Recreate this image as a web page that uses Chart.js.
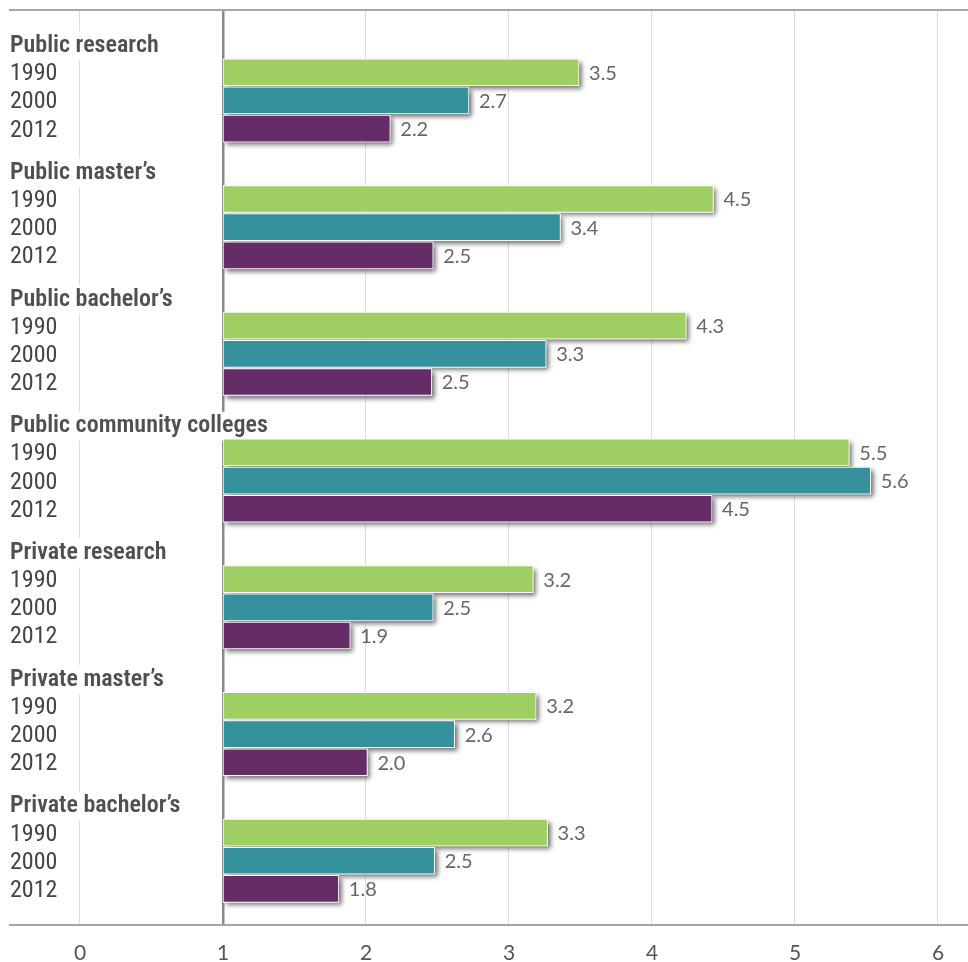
<!DOCTYPE html>
<html>
<head>
<meta charset="utf-8">
<script src="https://cdn.jsdelivr.net/npm/chart.js@4/dist/chart.umd.min.js"></script>
<style>
  html, body { margin: 0; padding: 0; background: #fff; }
  #wrap { width: 968px; height: 962px; }
</style>
</head>
<body>
<div id="wrap"><canvas id="myPlot"></canvas></div>
<script>
const groups = ["Public research", "Public master\u2019s", "Public bachelor\u2019s", "Public community colleges",
  "Private research", "Private master\u2019s", "Private bachelor\u2019s"];
const years = ["1990", "2000", "2012"];
// bar ends (bars start at 1)
const values1990 = [3.49, 4.43, 4.24, 5.38, 3.17, 3.19, 3.27];
const values2000 = [2.72, 3.36, 3.26, 5.53, 2.47, 2.62, 2.48];
const values2012 = [2.17, 2.47, 2.46, 4.42, 1.89, 2.01, 1.81];
// numbers printed next to the bars
const labels1990 = ["3.5", "4.5", "4.3", "5.5", "3.2", "3.2", "3.3"];
const labels2000 = ["2.7", "3.4", "3.3", "5.6", "2.5", "2.6", "2.5"];
const labels2012 = ["2.2", "2.5", "2.5", "4.5", "1.9", "2.0", "1.8"];
const xTicks = [0, 1, 2, 3, 4, 5, 6];
const barColors = ["#9fcf63", "#35919b", "#652c67"];

// row positions: header then 3 years, half a row gap between groups
const rowText = {};
const headerRows = [];
const rowPos = [];
groups.forEach((g, i) => {
  const base = i * 4.5;
  rowText[base] = g;
  headerRows.push(base);
  rowPos.push(base);
  years.forEach((y, j) => {
    rowText[base + j + 1] = y;
    rowPos.push(base + j + 1);
  });
});

function makeData(vals, yearIdx) {
  return vals.map((v, i) => ({ x: [1, v], y: i * 4.5 + yearIdx + 1 }));
}

function isHeader(c) {
  return !!(c && c.tick && headerRows.includes(c.tick.value));
}

const allValues = [values1990, values2000, values2012];
const allLabels = [labels1990, labels2000, labels2012];

// soft shadow under each bar + value labels at bar ends
const shadowPlugin = {
  id: "barShadow",
  beforeDatasetsDraw(chart) {
    const c = chart.ctx;
    c.save();
    c.shadowColor = "rgba(0,0,0,0.6)";
    c.shadowBlur = 5;
    c.shadowOffsetX = 3;
    c.shadowOffsetY = 3;
    c.fillStyle = "#ffffff";
    chart.data.datasets.forEach((ds, d) => {
      chart.getDatasetMeta(d).data.forEach((bar) => {
        const left = Math.min(bar.base, bar.x);
        const w = Math.abs(bar.x - bar.base);
        c.fillRect(left, bar.y - bar.height / 2, w, bar.height);
      });
    });
    c.restore();
  },
  afterDatasetsDraw(chart) {
    const c = chart.ctx;
    c.save();
    c.font = "20px Lato";
    c.fillStyle = "#666";
    c.textAlign = "left";
    c.textBaseline = "middle";
    chart.data.datasets.forEach((ds, d) => {
      chart.getDatasetMeta(d).data.forEach((bar, i) => {
        c.fillText(allLabels[d][i], bar.x + 10, bar.y + 1);
      });
    });
    c.restore();
  }
};

new Chart("myPlot", {
  type: "bar",
  data: {
    datasets: years.map((y, k) => ({
      label: y,
      data: makeData(allValues[k], k),
      backgroundColor: barColors[k],
      borderColor: "#ffffff",
      borderWidth: 1,
      borderSkipped: false,
      barThickness: 27,
      grouped: false
    }))
  },
  plugins: [shadowPlugin],
  options: {
    indexAxis: "y",
    responsive: true,
    maintainAspectRatio: false,
    animation: false,
    layout: { padding: { left: 10, right: 0, top: 10, bottom: 0 } },
    plugins: {
      legend: { display: false },
      tooltip: { enabled: false }
    },
    scales: {
      x: {
        type: "linear",
        min: -0.4895,
        max: 6.21,
        afterBuildTicks: (s) => { s.ticks = xTicks.map(v => ({ value: v })); },
        afterFit: (s) => { s.height = 37; },
        grid: {
          color: (c) => c.tick && c.tick.value === 1 ? "#8a8a8a" : "#dedede",
          lineWidth: (c) => c.tick && c.tick.value === 1 ? 2.5 : 1,
          drawTicks: false
        },
        border: { color: "#a6a6a6", width: 2 },
        ticks: { font: { family: "Lato", size: 21 }, color: "#555", padding: 16 }
      },
      x2: {
        type: "linear",
        position: "top",
        min: -0.4895,
        max: 6.21,
        afterBuildTicks: (s) => { s.ticks = []; },
        grid: { display: false, drawTicks: false },
        border: { color: "#a6a6a6", width: 2 },
        ticks: { display: false }
      },
      y: {
        type: "linear",
        reverse: true,
        offset: false,
        min: -1.21,
        max: 31.28,
        afterBuildTicks: (s) => { s.ticks = rowPos.map(v => ({ value: v })); },
        afterFit: (s) => { s.paddingTop = 0; s.paddingBottom = 0; s.width = 0; },
        grid: { display: false, drawTicks: false, offset: false },
        border: { display: false },
        ticks: {
          mirror: true,
          padding: 0,
          z: 0,
          autoSkip: false,
          labelOffset: 2,
          callback: (v) => rowText[v],
          color: (c) => isHeader(c) ? "#505050" : "#444",
          font: (c) => isHeader(c)
            ? { family: "'Roboto Condensed', 'Liberation Sans Narrow', sans-serif", size: 24, weight: 600 }
            : { family: "'Roboto Condensed', 'Liberation Sans Narrow', sans-serif", size: 24, weight: "normal" },
          showLabelBackdrop: (c) => isHeader(c),
          backdropColor: "#ffffff",
          backdropPadding: 0
        }
      }
    }
  }
});
</script>
</body>
</html>
